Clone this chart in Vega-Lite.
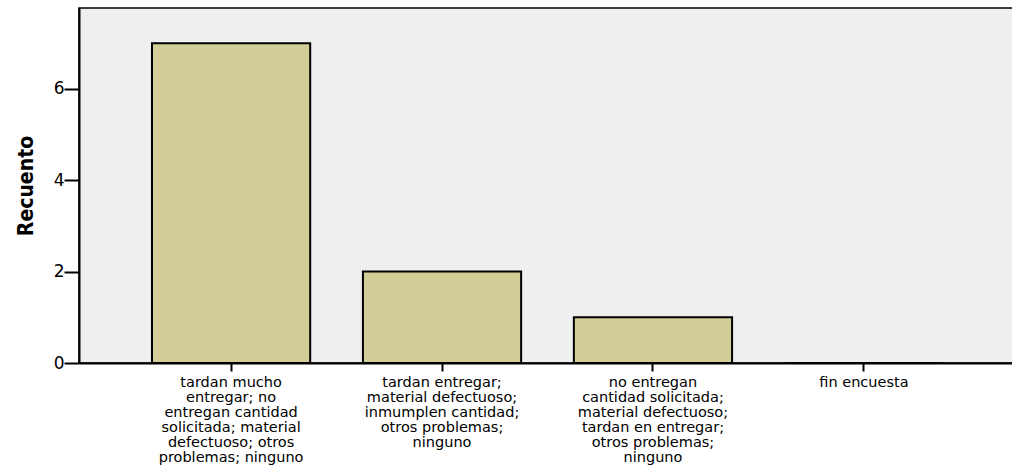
{
  "$schema": "https://vega.github.io/schema/vega-lite/v6.json",
  "width": 937,
  "height": 355,
  "autosize": {"type": "none"},
  "padding": {"left": 79, "top": 8, "right": 0, "bottom": 102},
  "background": "#ffffff",
  "config": {
    "view": {"fill": "#EFEFEF", "stroke": "#000000", "strokeWidth": 1.5},
    "font": "DejaVu Sans"
  },
  "data": {
    "values": [
      {"categoria": "tardan mucho\nentregar; no\nentregan cantidad\nsolicitada; material\ndefectuoso; otros\nproblemas; ninguno", "recuento": 7},
      {"categoria": "tardan entregar;\nmaterial defectuoso;\ninmumplen cantidad;\notros problemas;\nninguno", "recuento": 2},
      {"categoria": "no entregan\ncantidad solicitada;\nmaterial defectuoso;\ntardan en entregar;\notros problemas;\nninguno", "recuento": 1},
      {"categoria": "fin encuesta", "recuento": 0}
    ]
  },
  "mark": {"type": "bar", "fill": "#D3CE97", "stroke": "#000000", "strokeWidth": 2},
  "encoding": {
    "x": {
      "field": "categoria",
      "type": "nominal",
      "sort": null,
      "scale": {"paddingInner": 0.25, "paddingOuter": 0.346},
      "axis": {
        "title": null,
        "labelAngle": 0,
        "labelExpr": "split(datum.label, '\\n')",
        "labelFont": "DejaVu Sans",
        "labelFontSize": 14.5,
        "labelLineHeight": 15,
        "labelColor": "#000000",
        "labelBaseline": "top",
        "labelPadding": 4,
        "labelLimit": 0,
        "labelOverlap": false,
        "domainColor": "#000000",
        "domainWidth": 2,
        "tickColor": "#000000",
        "tickWidth": 2,
        "tickSize": 8,
        "grid": false
      }
    },
    "y": {
      "field": "recuento",
      "type": "quantitative",
      "scale": {"domain": [0, 7.77], "nice": false},
      "axis": {
        "title": "Recuento",
        "titleFont": "DejaVu Sans Condensed",
        "titleFontWeight": "bold",
        "titleFontSize": 21,
        "titleColor": "#000000",
        "titleX": -43,
        "titleY": 177.5,
        "titleAngle": -90,
        "titleBaseline": "bottom",
        "titleAlign": "center",
        "values": [0, 2, 4, 6],
        "labelFont": "DejaVu Sans",
        "labelFontSize": 17,
        "labelColor": "#000000",
        "labelPadding": 0,
        "domainColor": "#000000",
        "domainWidth": 2,
        "tickColor": "#000000",
        "tickWidth": 2,
        "tickSize": 15,
        "grid": false
      }
    }
  }
}
